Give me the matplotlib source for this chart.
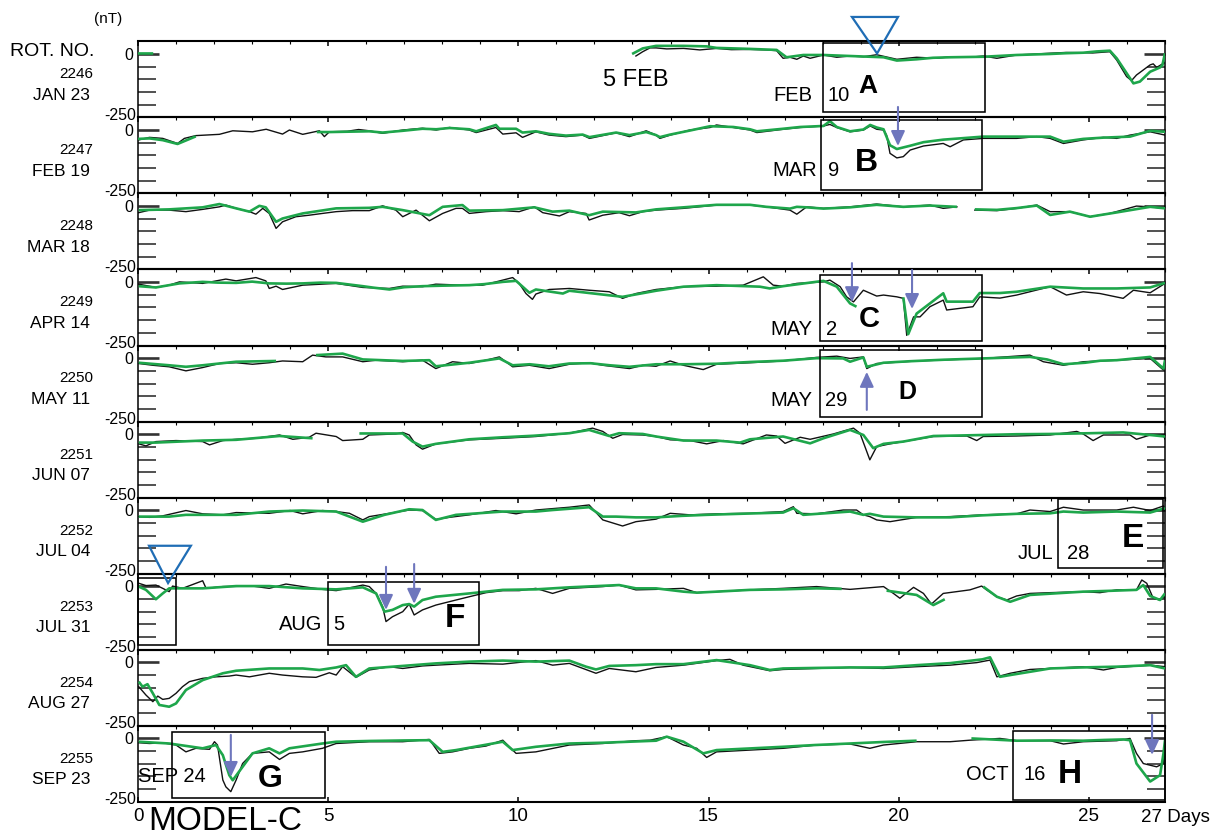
import numpy as np
import matplotlib
matplotlib.use("Agg")
import matplotlib.pyplot as plt
from matplotlib.patches import Rectangle, Polygon

plt.rcParams['font.family'] = ['Liberation Sans', 'DejaVu Sans']

# ---------------------------------------------------------------------------
# Data: one 27-day strip per solar rotation, Dst in nT against day of rotation
# ---------------------------------------------------------------------------
rotations = ['2246', '2247', '2248', '2249', '2250',
             '2251', '2252', '2253', '2254', '2255']
start_dates = ['JAN 23', 'FEB 19', 'MAR 18', 'APR 14', 'MAY 11',
               'JUN 07', 'JUL 04', 'JUL 31', 'AUG 27', 'SEP 23']

# observed (black) and model (green) series as (day, nT); None = data gap
obs_2246 = [(13.09, -8), (13.27, 9), (13.46, 24), (13.62, 24), (13.9, 20), (14.34, 22),
            (14.77, 16), (15.21, 22), (15.6, 17), (16.09, 18), (16.52, 16), (16.79, 13),
            (16.96, -17), (17.14, -13), (17.32, -21), (17.49, -8), (17.67, -17), (18.02, -4),
            (18.37, -13), (18.72, -8), (19.07, -11), (19.42, -3), (19.95, -21), (20.47, -13),
            (21.0, -17), (21.35, -11), (21.87, -13), (22.22, -8), (22.58, -17), (23.1, -4),
            (23.63, 0), (23.98, 3), (24.4, 6), (24.85, 5), (25.1, 4), (25.55, 9),
            (25.73, -24), (25.99, -89), (26.12, -105), (26.25, -83), (26.61, -43),
            (26.69, -39), (26.78, -53), (26.96, -37), (27.0, -34)]
mod_2246 = [(0.0, 2), (0.4, 2), None,
            (12.99, 0), (13.27, 22), (13.62, 32), (14.34, 32), (14.95, 30), (15.21, 24),
            (16.09, 20), (16.79, 16), (17.05, -13), (17.49, -4), (18.02, -4), (18.72, -8),
            (19.6, -13), (19.95, -26), (20.47, -21), (20.9, -15), (21.35, -13), (22.22, -11),
            (23.1, -4), (23.98, 0), (24.4, 3), (24.85, 5), (25.2, 10), (25.55, 13),
            (25.73, -17), (26.17, -116), (26.34, -109), (26.61, -70), (26.87, -53),
            (26.93, -45), (27.0, 3)]

obs_2247 = [(0.02, -39), (0.3, -29), (0.65, -33), (1.04, -53), (1.22, -33), (1.52, -22),
            (2.14, -17), (2.49, -3), (3.01, -7), (3.37, 3), (3.8, -16), (3.98, 0),
            (4.33, -17), (4.77, -3), (4.9, -26), (5.03, -7), (5.5, -5), (5.8, 2), (6.08, -3),
            (6.43, -13), (6.96, 0), (7.48, 7), (7.84, 0), (8.19, 10), (8.71, 0), (8.89, -10),
            (9.41, 10), (9.59, -16), (9.94, -11), (10.11, -29), (10.46, -7), (10.81, -20),
            (11.25, -26), (11.69, -20), (11.87, -33), (12.57, -11), (12.92, -26),
            (13.36, -3), (13.62, -20), (13.72, -33), (13.99, -20), (14.51, 0), (15.04, 10),
            (15.21, 20), (15.65, 10), (16.09, 0), (16.27, -10), (16.96, 3), (17.41, 10),
            (18.02, 16), (18.19, 22), (18.37, 10), (18.72, -7), (19.07, 0), (19.25, 16),
            (19.42, 3), (19.6, 0), (19.68, -20), (19.77, -92), (19.95, -110), (20.12, -105),
            (20.3, -79), (20.65, -63), (21.17, -53), (21.35, -66), (21.7, -39), (22.22, -33),
            (23.1, -33), (23.63, -26), (23.98, -33), (24.33, -53), (24.85, -39),
            (25.38, -29), (25.73, -33), (26.08, -20), (26.61, -7), (27.0, -20)]
mod_2247 = [(0.0, -35), (0.3, -33), (0.65, -40), (1.04, -55), (1.52, -25), None,
            (4.7, -8), (5.03, -8), (6.08, -5), (6.43, -10), (6.96, -3), (7.48, 5), (7.84, 3),
            (8.19, 8), (8.71, 3), (8.89, -5), (9.41, 20), (9.5, 5), (9.94, 5), (10.11, -10),
            (10.46, -5), (10.81, -15), (11.25, -22), (11.69, -18), (11.87, -28), (12.57, -10),
            (12.92, -20), (13.36, -8), (13.62, -20), (13.72, -28), (13.99, -18), (14.51, -2),
            (15.04, 15), (15.65, 12), (16.09, 3), (16.27, -5), (16.96, 5), (17.41, 12),
            (18.02, 16), (18.19, 35), (18.37, 12), (18.72, -5), (19.07, 2), (19.25, 20),
            (19.42, 10), (19.6, 3), (19.77, -60), (19.95, -75), (20.3, -62), (20.65, -48),
            (21.17, -38), (22.22, -26), (23.1, -26), (23.98, -26), (24.33, -46),
            (24.85, -35), (25.38, -30), (26.08, -26), (26.61, -3), (27.0, -7)]

obs_2248 = [(0.02, -26), (0.3, -16), (0.82, -16), (1.26, -22), (1.7, -13), (2.14, -3),
            (2.31, 4), (2.58, -9), (2.93, -22), (3.1, -32), (3.28, -9), (3.45, -29),
            (3.63, -88), (3.8, -62), (4.15, -42), (4.5, -36), (4.85, -29), (5.21, -22),
            (5.64, -18), (6.08, -18), (6.43, 1), (6.78, -16), (6.96, -42), (7.31, -16),
            (7.66, -58), (8.01, -29), (8.36, -9), (8.53, -9), (8.71, -29), (9.15, -22),
            (9.59, -18), (10.02, -22), (10.42, -3), (10.64, -26), (11.08, -39), (11.34, -22),
            (11.78, -29), (11.86, -55), (12.22, -36), (12.65, -26), (12.92, -38),
            (13.27, -22), (13.62, -16), (14.34, -9), (15.21, 4), (16.09, 4), (16.52, -3),
            (17.14, -16), (17.32, -32), (17.58, -3), (18.02, -9), (18.72, -3), (19.42, 8),
            (20.12, -3), (20.82, 4), (21.17, -9), (21.53, -3), None,
            (22.0, -16), (22.58, -18), (23.1, -9), (23.63, 4), (23.98, -22), (24.5, -22),
            (25.03, -42), (25.55, -29), (26.25, 0), (26.61, -3), (27.0, -9)]
mod_2248 = [(0.02, -16), (0.82, -13), (1.7, -5), (2.14, 8), (2.58, -9), (2.93, -22),
            (3.19, 1), (3.36, -5), (3.63, -62), (3.8, -49), (4.33, -29), (5.21, -9),
            (6.08, -7), (6.43, -3), (6.96, -16), (7.66, -36), (8.01, -3), (8.53, 4),
            (8.71, -18), (9.59, -16), (10.42, -5), (10.9, -22), (11.34, -18), (11.86, -36),
            (12.22, -22), (13.09, -25), (13.62, -13), (14.34, -5), (15.21, 5), (16.09, 5),
            (16.52, -3), (17.14, -10), (17.32, -3), (17.58, -5), (18.02, -10), (18.72, -5),
            (19.42, 5), (20.12, -3), (20.82, 2), (21.53, -3), None,
            (22.0, -13), (22.58, -15), (23.1, -8), (23.63, 2), (23.98, -35), (24.5, -22),
            (25.03, -42), (25.73, -25), (26.61, -3), (27.0, -9)]

obs_2249 = [(0.02, -8), (0.47, -21), (0.82, -12), (1.09, 1), (1.7, -5), (2.31, 12),
            (2.58, 5), (3.1, 18), (3.36, 5), (3.45, -25), (3.63, -16), (3.8, -29),
            (4.33, -12), (5.21, -5), (5.91, -21), (6.61, -25), (6.96, -16), (7.48, -18),
            (7.83, -8), (8.53, -12), (9.06, -12), (9.41, 1), (9.85, 18), (10.02, -5),
            (10.2, -45), (10.37, -68), (10.46, -47), (10.81, -29), (11.34, -25), (11.86, -32),
            (12.39, -38), (12.74, -64), (13.09, -45), (13.62, -29), (14.34, -18),
            (15.21, -16), (15.91, -12), (16.44, 21), (16.7, -12), (16.96, -16), (17.32, -5),
            (18.02, 1), (18.19, 8), (18.46, -18), (18.63, -58), (18.81, -78), (19.07, -32),
            (19.42, -55), (19.6, -51), (19.95, -58), (20.12, -64), (20.21, -210),
            (20.39, -137), (20.56, -137), (20.82, -97), (21.17, -71), (21.26, -110),
            (21.95, -97), (22.13, -58), (22.66, -63), (23.1, -51), (23.98, -18),
            (24.41, -51), (24.85, -38), (25.29, -45), (25.9, -64), (26.17, -32),
            (26.61, -42), (27.0, -5)]
mod_2249 = [(0.02, -16), (0.47, -21), (1.09, -5), (1.7, 1), (2.1, -2), (2.58, -3),
            (3.0, 2), (3.45, -5), (3.9, -6), (4.33, -5), (4.8, -2), (5.21, -3), (5.91, -16),
            (6.2, -22), (6.61, -29), (7.0, -20), (7.48, -16), (8.0, -14), (8.71, -12),
            (9.1, -8), (9.59, 1), (9.94, 5), (10.29, -42), (10.46, -29), (11.17, -45),
            (11.34, -34), (12.74, -58), (13.62, -34), (14.34, -18), (15.21, -12),
            (16.35, -18), (16.61, -25), (16.96, -16), (18.02, 5), (18.37, -18),
            (18.72, -84), (18.89, -97), None,
            (20.12, -60), (20.25, -205), (20.47, -124), (21.17, -44), (21.26, -77),
            (21.95, -77), (22.13, -43), (22.66, -43), (23.1, -38), (23.98, -18),
            (24.85, -25), (25.73, -25), (26.61, -21), (27.0, -3)]

obs_2250 = [(0.02, -21), (0.39, -28), (0.82, -34), (1.26, -50), (1.7, -37), (2.14, -21),
            (2.58, -18), (3.01, -24), (3.45, -18), (3.8, -11), (4.33, -14), (4.59, 12),
            (4.94, 5), (5.38, 5), (5.91, -14), (6.26, -8), (6.96, -14), (7.48, -8),
            (7.83, -41), (8.27, -14), (8.71, -21), (9.15, -8), (9.5, 5), (9.85, -34),
            (10.29, -28), (10.81, -41), (11.34, -24), (11.86, -18), (12.22, -28),
            (12.92, -41), (13.27, -28), (13.62, -32), (13.99, -11), (14.34, -28),
            (14.86, -45), (15.21, -24), (16.09, -18), (16.96, -11), (17.84, 3), (18.37, 8),
            (18.72, -1), (19.07, 5), (19.16, -41), (19.42, -21), (20.47, -11), (22.22, -1),
            (23.45, 12), (23.8, -14), (24.33, -28), (24.85, -14), (25.73, -8), (26.61, -1),
            (26.96, -47), (27.0, -10)]
mod_2250 = [(0.02, -18), (0.82, -28), (1.26, -34), (1.7, -28), (2.58, -14), (3.63, -11),
            None,
            (4.68, 12), (5.38, 18), (5.91, -5), (6.96, -11), (7.66, -8), (7.83, -32),
            (8.71, -18), (9.5, -1), (9.85, -28), (10.3, -24), (10.8, -32), (11.34, -21),
            (11.9, -20), (12.4, -28), (12.92, -34), (13.62, -24), (14.34, -24),
            (15.21, -22), (16.09, -15), (16.96, -10), (17.84, 0), (18.54, -1), (18.72, -14),
            (19.07, 3), (19.16, -34), (19.6, -18), (20.3, -12), (21.2, -6), (22.22, -1),
            (23.45, 5), (23.9, -5), (24.33, -24), (24.9, -18), (25.3, -10), (25.73, -8),
            (26.61, 5), (26.96, -41), (27.0, -8)]

obs_2251 = [(0.02, -38), (0.21, -46), (0.47, -29), (1.0, -25), (1.7, -29), (1.88, -42),
            (2.23, -25), (2.58, -20), (3.1, -16), (3.72, -3), (4.07, -20), (4.5, -12),
            (4.68, 4), (5.21, -9), (5.38, -25), (5.91, -20), (6.08, -3), (6.78, 1),
            (6.96, 7), (7.13, -3), (7.31, -42), (7.48, -59), (7.83, -38), (8.71, -22),
            (9.59, -16), (10.46, -9), (11.34, 4), (11.95, 24), (12.22, 11), (12.48, -16),
            (12.74, -1), (13.27, -3), (13.62, -9), (13.99, -22), (14.51, -25), (14.95, -38),
            (15.39, -25), (15.91, -38), (16.52, -3), (16.79, -7), (17.01, -36), (17.41, -12),
            (17.67, -20), (18.28, 1), (18.81, 24), (18.98, 4), (19.24, -101), (19.42, -49),
            (19.77, -38), (20.12, -29), (20.91, -9), (21.79, -7), (22.05, -25), (22.22, -9),
            (23.1, -7), (23.98, -3), (24.68, 11), (24.85, 1), (25.11, -25), (25.38, -3),
            (26.08, -3), (26.25, -20), (26.61, -3), (26.96, -3), (27.0, -20)]
mod_2251 = [(0.02, -33), (0.47, -33), (1.7, -25), (2.58, -22), (3.72, -7), (4.59, -16),
            None,
            (5.82, 3), (6.96, 3), (7.22, -29), (7.48, -49), (7.83, -38), (8.71, -20),
            (9.59, -12), (10.4, -6), (11.34, 4), (11.86, 17), (12.39, -7), (12.65, 4),
            (13.27, 1), (13.62, -9), (14.34, -25), (15.21, -25), (15.83, -33), (16.09, -20),
            (16.96, -9), (17.67, -36), (18.02, -16), (18.72, 17), (19.07, -3),
            (19.33, -55), (19.6, -38), (20.12, -29), (20.91, -7), (21.6, -5), (22.22, -3),
            (23.1, 0), (23.98, 1), (25.03, 4), (25.9, 7), (26.61, -3), (27.0, -9)]

obs_2252 = [(0.02, -25), (0.3, -28), (0.65, -22), (1.26, -1), (1.7, -14), (2.23, -18),
            (2.58, -9), (3.45, -12), (4.0, -1), (4.33, -14), (4.85, -1), (5.21, -5),
            (5.56, -12), (5.91, -38), (6.08, -25), (6.61, -12), (7.13, 1), (7.48, -1),
            (7.83, -36), (8.18, -28), (8.71, -18), (9.41, -1), (9.94, -14), (10.46, 1),
            (11.34, 12), (11.86, 21), (12.22, -38), (12.74, -62), (13.09, -45),
            (13.62, -35), (13.99, -12), (14.51, -18), (15.21, -14), (16.09, -12),
            (16.96, -5), (17.23, 14), (17.32, -12), (17.84, -14), (18.54, 1), (18.89, 1),
            (19.07, -18), (19.24, -25), (19.42, -38), (19.77, -45), (20.47, -28),
            (21.35, -25), (22.22, -18), (23.1, -14), (23.45, 1), (23.98, -5), (24.33, 12),
            (24.85, 1), (25.73, 1), (26.17, 12), (26.61, -1), (26.96, 17), (27.0, 1)]
mod_2252 = [(0.02, -25), (0.82, -25), (1.26, -18), (2.58, -18), (3.45, -5), (4.33, -1),
            (5.21, -5), (5.91, -45), (6.48, -18), (7.13, 4), (7.48, 1), (7.83, -38),
            (8.36, -18), (9.59, -5), (10.46, -5), (10.9, 1), (11.86, 12), (12.22, -25),
            (12.57, -25), (13.09, -28), (13.62, -28), (14.3, -22), (14.95, -18),
            (15.8, -14), (16.96, -9), (17.23, 8), (17.49, -18), (18.72, -5), (19.07, -18),
            (19.24, -14), (19.6, -25), (20.47, -28), (21.35, -28), (22.2, -20), (23.1, -14),
            (23.98, -12), (24.33, -5), (24.85, -9), (25.73, -5), (26.61, -9), (27.0, 8)]

obs_2253 = [(0.02, 12), (0.21, 3), (0.47, 5), (0.65, -8), (0.82, -21), (0.91, 1),
            (1.17, -8), (1.7, 22), (1.79, -8), (2.23, -1), (3.01, 1), (3.45, -8),
            (3.89, 9), (4.33, -1), (4.85, -12), (5.21, -17), (5.91, 5), (6.08, -1),
            (6.26, -28), (6.43, -80), (6.52, -139), (6.69, -120), (6.96, -100),
            (7.13, -70), (7.26, -113), (7.48, -93), (7.83, -74), (8.36, -54), (8.71, -41),
            (9.15, -25), (9.59, -17), (10.02, -17), (10.46, -8), (10.9, -28), (11.34, -8),
            (12.22, -1), (12.65, 5), (13.09, -14), (13.62, -12), (14.34, -8), (14.69, -25),
            (15.21, -21), (16.09, -14), (16.96, -8), (17.84, -1), (18.72, -12), (19.6, -1),
            (19.86, -28), (20.03, -47), (20.21, -25), (20.39, -4), (20.65, -28),
            (20.86, -70), (21.17, -28), (21.87, -14), (22.18, 1), (22.31, -14),
            (22.58, -41), (22.84, -54), (23.1, -38), (23.45, -28), (23.98, -25),
            (24.85, -21), (25.29, -25), (25.73, -14), (26.25, -14), (26.39, 25),
            (26.52, 12), (26.69, -47), (26.87, -54), (27.0, -41)]
mod_2253 = [(0.02, -1), (0.21, -14), (0.47, -51), (0.65, -28), (0.82, -8), (1.17, -8),
            (1.7, -8), (2.58, 1), (3.45, 1), (4.33, -8), (5.21, -12), (5.91, -4),
            (6.26, -28), (6.48, -100), (6.69, -93), (6.96, -74), (7.13, -70), (7.26, -80),
            (7.48, -54), (7.83, -41), (8.71, -28), (9.59, -14), (10.46, -12), (11.34, -4),
            (12.65, 5), (13.09, -8), (13.62, -8), (14.34, -21), (14.69, -25), (15.21, -21),
            (16.09, -14), (16.96, -12), (17.84, -8), (18.5, -10), None,
            (19.68, -17), (20.47, -34), (20.91, -74), (21.21, -51), None,
            (22.22, -1), (22.58, -41), (22.93, -61), (23.45, -34), (24.85, -21),
            (25.5, -18), (26.25, -14), (26.43, 5), (26.61, -38), (26.87, -54), (27.0, -28)]

obs_2254 = [(0.02, -96), (0.21, -129), (0.39, -155), (0.52, -133), (0.65, -146),
            (0.82, -142), (1.0, -122), (1.17, -96), (1.35, -76), (1.7, -63), (2.05, -57),
            (2.4, -54), (2.58, -50), (2.93, -57), (3.45, -43), (3.8, -50), (4.33, -57),
            (4.68, -59), (5.03, -41), (5.21, -50), (5.38, -17), (5.73, -59), (6.08, -30),
            (6.61, -17), (6.96, -24), (7.48, -14), (7.83, -11), (8.71, -4), (9.59, -7),
            (10.46, 7), (10.9, -11), (11.34, -4), (12.04, -43), (12.39, -24), (13.09, -37),
            (13.62, -20), (14.34, -11), (15.21, 7), (15.56, 12), (15.91, -11),
            (16.61, -33), (16.96, -28), (17.84, -24), (18.72, -20), (19.6, -24),
            (20.47, -17), (21.35, -11), (22.05, -1), (22.4, 9), (22.58, -57), (22.93, -43),
            (23.45, -28), (23.98, -24), (24.85, -17), (25.38, -30), (25.73, -20),
            (26.61, -11), (27.0, -17)]
mod_2254 = [(0.02, -76), (0.12, -96), (0.25, -86), (0.39, -122), (0.56, -168),
            (0.82, -175), (1.0, -162), (1.26, -109), (1.7, -70), (2.23, -43), (2.58, -33),
            (3.45, -24), (4.33, -24), (4.77, -30), (5.21, -20), (5.47, -11), (5.73, -57),
            (6.08, -24), (6.96, -14), (7.83, -4), (8.71, 3), (9.59, 7), (10.46, 3),
            (11.34, 7), (11.78, -17), (12.04, -28), (12.39, -14), (13.09, -11),
            (13.62, -7), (14.34, -7), (15.21, 9), (16.09, -11), (16.61, -30), (16.96, -24),
            (17.8, -22), (18.72, -20), (19.6, -20), (20.47, -11), (21.35, -3), (22.2, 12),
            (22.4, 20), (22.66, -57), (22.93, -50), (23.98, -24), (24.8, -20),
            (25.73, -17), (26.61, -11), (27.0, -24)]

obs_2255 = [(0.02, -17), (0.3, -20), (0.65, -17), (1.0, -26), (1.26, -53), (1.52, -39),
            (1.88, -43), (2.01, -13), (2.09, -26), (2.23, -164), (2.31, -191),
            (2.44, -210), (2.58, -164), (2.75, -99), (3.01, -59), (3.45, -53), (3.72, -83),
            (3.98, -59), (4.33, -53), (4.85, -39), (5.21, -20), (6.08, -13), (6.96, -13),
            (7.66, -4), (7.92, -59), (8.27, -53), (8.71, -39), (9.15, -30), (9.59, -7),
            (9.94, -59), (10.46, -53), (11.34, -26), (12.22, -20), (13.09, -9),
            (13.46, -7), (13.9, 7), (14.34, -26), (14.69, -39), (14.95, -75), (15.21, -53),
            (16.09, -46), (16.96, -39), (17.84, -26), (18.72, -22), (19.24, -39),
            (19.6, -26), (20.47, -13), (21.35, -13), (21.87, -7), (22.66, 0), (23.1, -9),
            (23.98, -9), (24.33, -22), (24.85, -13), (25.73, -9), (26.08, 0), (26.25, -59),
            (26.43, -99), (26.78, -112), (26.96, -99), (27.0, -13)]
mod_2255 = [(0.02, -13), (0.82, -20), (1.7, -39), (2.05, -26), (2.23, -66), (2.4, -145),
            (2.49, -165), (2.75, -112), (3.01, -59), (3.45, -39), (3.72, -59), (3.98, -39),
            (4.85, -20), (5.21, -13), (6.1, -10), (7.0, -8), (7.66, -7), (8.01, -53),
            (8.36, -46), (9.59, -13), (9.85, -46), (10.46, -33), (11.34, -20), (12.22, -17),
            (13.62, -9), (13.9, 7), (14.34, -13), (14.86, -59), (15.21, -46), (16.96, -33),
            (17.8, -26), (18.72, -20), (19.6, -14), (20.47, -9), None,
            (21.91, 0), (23.1, -9), (24.0, -8), (24.85, -9), (25.4, -6), (25.9, -4),
            (26.08, -7), (26.25, -99), (26.61, -170), (26.87, -145), (26.96, -59),
            (27.0, -7)]

observed = [obs_2246, obs_2247, obs_2248, obs_2249, obs_2250,
            obs_2251, obs_2252, obs_2253, obs_2254, obs_2255]
modelled = [mod_2246, mod_2247, mod_2248, mod_2249, mod_2250,
            mod_2251, mod_2252, mod_2253, mod_2254, mod_2255]

# Highlighted intervals
event_panel = [0, 1, 3, 4, 6, 7, 9, 9]
event_start = [18.0, 17.95, 17.93, 17.93, 24.19, 5.0, 0.9, 23.0]
event_end = [22.27, 22.2, 22.2, 22.2, 26.95, 8.96, 4.92, 27.0]
event_month = ['FEB', 'MAR', 'MAY', 'MAY', 'JUL', 'AUG', 'SEP', 'OCT']
event_mday = ['10', '9', '2', '29', '28', '5', '24', '16']
event_tag = ['A', 'B', 'C', 'D', 'E', 'F', 'G', 'H']

# ---------------------------------------------------------------------------
# Layout and styling
# ---------------------------------------------------------------------------
W, H = 1222, 836
fig = plt.figure(figsize=(W / 100, H / 100), dpi=100)

X0, X1 = 138, 1165
TOP, PH = 41.3, 76.05
NDAYS = 27
YMIN, YMAX = -250, 50

OBS_COLOR = '#111111'
MOD_COLOR = '#1ea64b'
ARROW_COLOR = '#6e76bd'
TRI_COLOR = '#1f6db5'


def px(x, y):
    return x / W, 1 - y / H


def to_xy(series):
    d = np.array([np.nan if p is None else p[0] for p in series], dtype=float)
    v = np.array([np.nan if p is None else p[1] for p in series], dtype=float)
    return d, v


axes = []
for i in range(len(rotations)):
    bottom = 1 - (TOP + PH * (i + 1)) / H
    ax = fig.add_axes([X0 / W, bottom, (X1 - X0) / W, PH / H])
    ax.set_facecolor('none')
    ax.set_xlim(0, NDAYS)
    ax.set_ylim(YMIN, YMAX)
    for side in ('top', 'bottom'):
        ax.spines[side].set_linewidth(1.5)
    for side in ('left', 'right'):
        ax.spines[side].set_linewidth(1.1)

    # day ticks along the top edge of every strip
    ax.set_xticks(np.arange(0, 26, 5))
    ax.set_xticks(np.arange(0, 28, 1), minor=True)
    ax.tick_params(axis='x', which='major', top=True, bottom=False, direction='in',
                   length=3.8, width=1.1, labeltop=False, labelbottom=False)
    ax.tick_params(axis='x', which='minor', top=True, bottom=False, direction='in',
                   length=2.3, width=0.8)

    # nT ticks on both sides
    ax.set_yticks([0, -50, -100, -150, -200])
    ax.set_yticklabels(['0', '', '', '', ''])
    ax.tick_params(axis='y', which='major', left=True, right=True, direction='in',
                   length=13, width=1.2, color='#333333', labelsize=11.5, pad=3.5)
    for t in ax.yaxis.get_major_ticks()[:1]:
        for line in (t.tick1line, t.tick2line):
            line.set_markersize(15)
            line.set_markeredgewidth(1.9)
            line.set_color('black')
    ax.annotate('-250', xy=(0, YMIN), xytext=(-1.5, 1.5), textcoords='offset points',
                ha='right', va='center', fontsize=11.5, annotation_clip=False)

    d, v = to_xy(observed[i])
    ax.plot(d, v, color=OBS_COLOR, lw=1.0, zorder=2)
    d, v = to_xy(modelled[i])
    ax.plot(d, v, color=MOD_COLOR, lw=1.9, zorder=3, solid_capstyle='butt')

    # rotation number and start date
    top_px = TOP + PH * i
    fig.text(*px(93, top_px + 33), rotations[i], ha='right', va='center', fontsize=11)
    fig.text(*px(90, top_px + 54), start_dates[i], ha='right', va='center', fontsize=12.5)
    axes.append(ax)

# bottom axis of the last strip
axb = axes[-1]
axb.tick_params(axis='x', which='major', bottom=True, labelbottom=True,
                length=3.8, labelsize=13.5, pad=4.5)
axb.set_xticklabels(['0', '5', '10', '15', '20', '25'])
axb.annotate('27 Days', xy=(26.37, YMIN), xytext=(0, -11), textcoords='offset points',
             ha='left', va='center', fontsize=13.5, annotation_clip=False)

# header texts
fig.text(*px(108, 19), '(nT)', ha='center', va='center', fontsize=11)
fig.text(*px(94, 51), 'ROT. NO.', ha='right', va='center', fontsize=14)
fig.text(*px(148, 821), 'MODEL-C', ha='left', va='center', fontsize=24)
axes[0].text(12.22, -103, '5 FEB', ha='left', va='center', fontsize=17)

# event boxes and labels
box_top = [43, 39, 28, 32, 45, 17, 26, 30]
box_bot = [-229, -237, -232, -232, -228, -232, -235, -243]
month_x = [17.74, 17.85, 17.74, 17.72, 24.05, 4.84, 0.0, 22.9]
month_y = [-162, -158, -187, -167, -170, -152, -150, -142]
mday_x = [18.14, 18.14, 18.08, 18.05, 24.42, 5.13, None, 23.27]
tag_x = [19.19, 19.14, 19.22, 20.24, 26.16, 8.33, 3.47, 24.5]
tag_y = [-126, -132, -144, -133, -113, -127, -160, -144]
tag_size = [19, 23, 21, 18, 24, 24, 23, 24]

for k in range(len(event_tag)):
    ax = axes[event_panel[k]]
    ax.add_patch(Rectangle((event_start[k], box_bot[k]), event_end[k] - event_start[k],
                           box_top[k] - box_bot[k], fill=False, ec='black', lw=1.15,
                           clip_on=False, zorder=4))
    if mday_x[k] is None:
        ax.text(month_x[k], month_y[k], event_month[k] + ' ' + event_mday[k],
                ha='left', va='center', fontsize=14.5, zorder=5)
    else:
        ax.text(month_x[k], month_y[k], event_month[k], ha='right', va='center',
                fontsize=14.5, zorder=5)
        ax.text(mday_x[k], month_y[k], event_mday[k], ha='left', va='center',
                fontsize=14.5, zorder=5)
    ax.text(tag_x[k], tag_y[k], event_tag[k], ha='center', va='center',
            fontsize=tag_size[k], fontweight='bold', zorder=5)

# short interval box at the start of rotation 2253
axes[7].add_patch(Rectangle((0, -232), 1.0, 265, fill=False, ec='black', lw=1.15,
                            clip_on=False, zorder=4))

# open triangles marking the two reference times
tri_panel = [0, 7]
tri_verts = [[(18.77, 146), (19.98, 146), (19.43, 2)],
             [(0.29, 160), (1.39, 160), (0.79, 13)]]
for p, verts in zip(tri_panel, tri_verts):
    axes[p].add_patch(Polygon(verts, closed=True, fill=False, ec=TRI_COLOR, lw=1.6,
                              clip_on=False, zorder=6))

# arrows pointing at storm onsets
arrow_panel = [1, 3, 3, 4, 7, 7, 9, 9]
arrow_day = [19.98, 18.77, 20.35, 19.16, 6.52, 7.26, 2.44, 26.66]
arrow_tail = [91, 75, 48, -204, 77, 88, 14, 93]
arrow_head = [-63, -79, -106, -54, -93, -69, -152, -65]
for p, xd, yt, yh in zip(arrow_panel, arrow_day, arrow_tail, arrow_head):
    axes[p].annotate('', xy=(xd, yh), xytext=(xd, yt),
                     arrowprops=dict(arrowstyle='-|>,head_length=0.9,head_width=0.42',
                                     color=ARROW_COLOR, lw=1.5, shrinkA=0, shrinkB=0),
                     annotation_clip=False, zorder=7)

fig.savefig('out.png', dpi=100)
